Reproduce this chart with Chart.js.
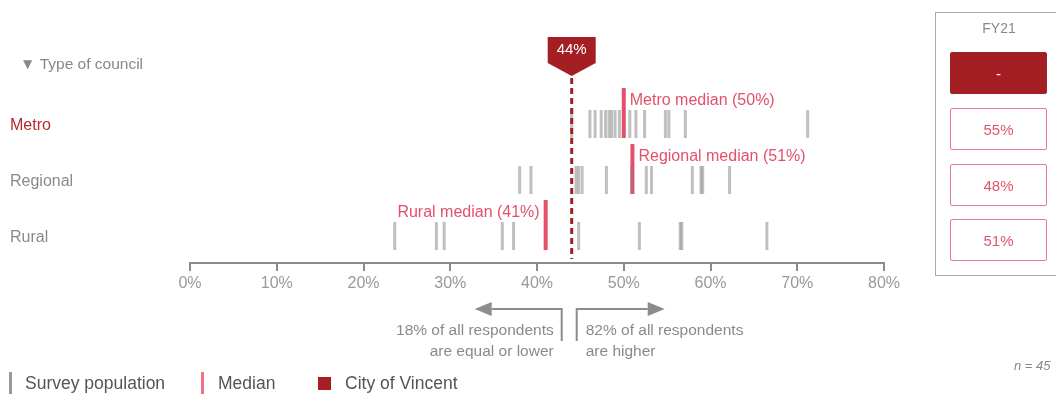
<!DOCTYPE html>
<html>
<head>
<meta charset="utf-8">
<script src="https://cdn.jsdelivr.net/npm/chart.js@4"></script>
<style>
  html, body { margin: 0; padding: 0; background: #fff; overflow: hidden; }
  body { width: 1056px; height: 394px; position: relative; font-family: "Liberation Sans", Arial, sans-serif; }
  #wrap { position: absolute; left: 0; top: 0; width: 1056px; height: 394px; }
  .panel { position: absolute; left: 935px; top: 12px; width: 140px; height: 264px; border: 1px solid #aaa; box-sizing: border-box; }
  .panel .title { position: absolute; left: 0; width: 126px; top: 7px; text-align: center; color: #888; font-size: 14px; }
  .cell { position: absolute; left: 14px; width: 97px; height: 42px; box-sizing: border-box; border: 1.5px solid #e8798a; border-radius: 2px; color: #e0566b; font-size: 15px; display: flex; align-items: center; justify-content: center; }
  .cell.city { background: #a41f23; border-color: #a41f23; color: #fff; }
  .legend { position: absolute; top: 372px; left: 0; font-size: 17.5px; color: #555; }
  .legend .item { position: absolute; top: 0; white-space: nowrap; }
  .legend .sw { position: absolute; }
  .nlabel { position: absolute; left: 1014px; top: 358px; font-size: 13px; font-style: italic; color: #888; white-space: nowrap; }
</style>
</head>
<body>
<div id="wrap"><canvas id="stripChart" width="1056" height="394"></canvas></div>

<div class="panel" id="fyPanel"><div class="title" id="fyTitle"></div></div>

<div class="legend">
  <div class="sw" style="left:9px; top:0; width:3px; height:24px; background:#999;"></div>
  <div class="item" style="left:25px; top:1px;">Survey population</div>
  <div class="sw" style="left:201px; top:0; width:3px; height:24px; background:#f07386;"></div>
  <div class="item" style="left:218px; top:1px;">Median</div>
  <div class="sw" style="left:318px; top:5px; width:13px; height:13px; background:#a41f23;"></div>
  <div class="item" style="left:345px; top:1px;">City of Vincent</div>
</div>
<div class="nlabel" id="nLabel"></div>

<script>
// council groups and the scores of every surveyed council in each group
const councilTypes = ["Metro", "Regional", "Rural"];

const metroScores = [44, 46.1, 46.7, 47.4, 47.9, 48.3, 48.6, 49.0, 49.5, 50.7, 51.4, 52.4, 54.8, 55.2, 57.1, 71.2];
const regionalScores = [38.0, 39.3, 44.5, 44.8, 45.2, 48.0, 50.9, 52.6, 53.2, 57.9, 58.9, 59.1, 62.2];
const ruralScores = [23.6, 28.4, 29.3, 36.0, 37.3, 44.8, 51.8, 56.5, 56.7, 66.5];

const medians = [50, 51, 41];
const cityType = "Metro";
const cityScore = 44;

const xTicks = [0, 10, 20, 30, 40, 50, 60, 70, 80];

// share of respondents at or below / above the city
const lowerPct = 18;
const higherPct = 82;

const fyLabel = "FY21";
const fyValues = ["-", "55%", "48%", "51%"];
const sampleSize = 45;

const grey = "rgba(130,130,130,0.5)";
const pink = "#e4506a";
const cityRed = "#a41f23";
const textGrey = "#8a8a8a";
const font = '"Liberation Sans", Arial, sans-serif';

// rows sit at y = 0, 1, 2 on a reversed linear scale
const scoreGroups = [metroScores, regionalScores, ruralScores];
const populationPoints = [];
scoreGroups.forEach((scores, row) => {
  scores.forEach(v => populationPoints.push({ x: v, y: row }));
});
const medianPoints = medians.map((m, row) => ({ x: m, y: row - 0.196 }));

const overlay = {
  id: "overlay",
  afterDatasetsDraw(chart) {
    const ctx = chart.ctx;
    const xs = chart.scales.x;
    const ys = chart.scales.y;
    const cx = xs.getPixelForValue(cityScore);

    ctx.save();

    // row labels and heading
    ctx.textBaseline = "middle";
    ctx.textAlign = "left";
    ctx.font = "15.5px " + font;
    ctx.fillStyle = "#888";
    ctx.fillText("\u25BC Type of council", 20, 65);
    ctx.font = "16px " + font;
    councilTypes.forEach((name, row) => {
      ctx.fillStyle = name === cityType ? "#b52a2e" : textGrey;
      ctx.fillText(name, 10, ys.getPixelForValue(row) + 2);
    });

    // median captions
    ctx.font = "16px " + font;
    ctx.fillStyle = pink;
    medians.forEach((m, row) => {
      const px = xs.getPixelForValue(m);
      const py = ys.getPixelForValue(row) - 23;
      const text = councilTypes[row] + " median (" + m + "%)";
      if (m < cityScore) {
        ctx.textAlign = "right";
        ctx.fillText(text, px - 6, py);
      } else {
        ctx.textAlign = "left";
        ctx.fillText(text, px + 6, py);
      }
    });

    // city marker line
    ctx.strokeStyle = cityRed;
    ctx.lineWidth = 3;
    ctx.setLineDash([6, 4]);
    ctx.beginPath();
    ctx.moveTo(cx, 78);
    ctx.lineTo(cx, chart.chartArea.bottom - 4);
    ctx.stroke();
    ctx.setLineDash([]);

    // city flag
    ctx.fillStyle = cityRed;
    ctx.beginPath();
    ctx.moveTo(cx - 24, 37);
    ctx.lineTo(cx + 24, 37);
    ctx.lineTo(cx + 24, 63);
    ctx.lineTo(cx, 76);
    ctx.lineTo(cx - 24, 63);
    ctx.closePath();
    ctx.fill();
    ctx.fillStyle = "#fff";
    ctx.textAlign = "center";
    ctx.font = "15px " + font;
    ctx.fillText(cityScore + "%", cx, 50);

    // arrows either side of the city
    ctx.strokeStyle = "#8c8c8c";
    ctx.fillStyle = "#8c8c8c";
    ctx.lineWidth = 2;
    const lx = cx - 10, rx = cx + 5, ay = 309;
    ctx.beginPath();
    ctx.moveTo(lx, 341); ctx.lineTo(lx, ay); ctx.lineTo(cx - 80, ay);
    ctx.moveTo(rx, 341); ctx.lineTo(rx, ay); ctx.lineTo(cx + 76, ay);
    ctx.stroke();
    ctx.beginPath();
    ctx.moveTo(cx - 97, ay); ctx.lineTo(cx - 80, ay - 7); ctx.lineTo(cx - 80, ay + 7); ctx.closePath();
    ctx.moveTo(cx + 93, ay); ctx.lineTo(cx + 76, ay - 7); ctx.lineTo(cx + 76, ay + 7); ctx.closePath();
    ctx.fill();

    ctx.font = "15.5px " + font;
    ctx.fillStyle = textGrey;
    ctx.textAlign = "right";
    ctx.fillText(lowerPct + "% of all respondents", lx - 8, 331);
    ctx.fillText("are equal or lower", lx - 8, 352);
    ctx.textAlign = "left";
    ctx.fillText(higherPct + "% of all respondents", rx + 9, 331);
    ctx.fillText("are higher", rx + 9, 352);

    ctx.restore();
  }
};

new Chart(document.getElementById("stripChart"), {
  type: "scatter",
  data: {
    datasets: [
      {
        label: "Survey population",
        data: populationPoints,
        pointStyle: "line",
        pointRotation: 90,
        pointRadius: 14,
        pointBorderWidth: 3,
        pointBorderColor: grey,
        pointBackgroundColor: grey
      },
      {
        label: "Median",
        data: medianPoints,
        pointStyle: "line",
        pointRotation: 90,
        pointRadius: 25,
        pointBorderWidth: 4,
        pointBorderColor: pink,
        pointBackgroundColor: pink
      }
    ]
  },
  options: {
    responsive: false,
    animation: false,
    events: [],
    layout: { padding: { left: 190, right: 172, top: 40, bottom: 101 } },
    plugins: { legend: { display: false }, tooltip: { enabled: false } },
    scales: {
      x: {
        type: "linear",
        min: 0,
        max: 80,
        afterBuildTicks: s => { s.ticks = xTicks.map(v => ({ value: v })); },
        afterFit: s => { s.height = 30; },
        border: { display: true, color: "#8c8c8c", width: 2 },
        grid: { drawOnChartArea: false, drawTicks: true, tickLength: 8, color: "#8c8c8c", lineWidth: 2 },
        ticks: { color: "#999", padding: 3, font: { size: 16, family: font }, callback: v => v + "%" }
      },
      y: {
        type: "linear",
        display: false,
        reverse: true,
        min: -1.5,
        max: 2.482
      }
    }
  },
  plugins: [overlay]
});

// FY21 comparison panel
const panel = document.getElementById("fyPanel");
document.getElementById("fyTitle").textContent = fyLabel;
const cellTops = [39, 95, 151, 206];
fyValues.forEach((v, i) => {
  const d = document.createElement("div");
  d.className = "cell" + (i === 0 ? " city" : "");
  d.style.top = cellTops[i] + "px";
  d.textContent = v;
  panel.appendChild(d);
});
document.getElementById("nLabel").textContent = "n = " + sampleSize;
</script>
</body>
</html>
